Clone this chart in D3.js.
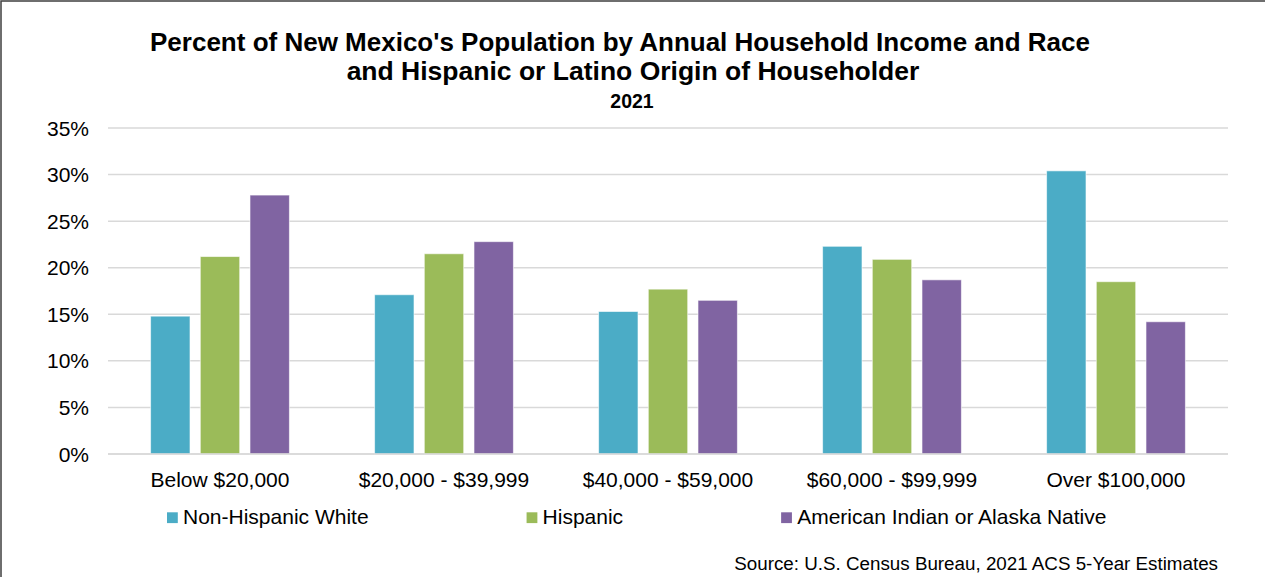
<!DOCTYPE html>
<html>
<head>
<meta charset="utf-8">
<script src="https://cdn.jsdelivr.net/npm/d3@7"></script>
<style>
  html, body { margin: 0; padding: 0; background: #fff; }
  svg { display: block; font-family: Arial, "Liberation Sans", sans-serif; }
</style>
</head>
<body>
<svg id="chart" width="1265" height="577"></svg>
<script>
const categories = ["Below $20,000", "$20,000 - $39,999", "$40,000 - $59,000", "$60,000 - $99,999", "Over $100,000"];
const seriesNames = ["Non-Hispanic White", "Hispanic", "American Indian or Alaska Native"];
const nonHispanicWhite = [14.8, 17.1, 15.3, 22.3, 30.4];
const hispanic = [21.2, 21.5, 17.7, 20.9, 18.5];
const americanIndian = [27.8, 22.8, 16.5, 18.7, 14.2];
const yTicks = [0, 5, 10, 15, 20, 25, 30, 35];
const titleLines = ["Percent of New Mexico's Population by Annual Household Income and Race", "and Hispanic or Latino Origin of Householder"];
const subtitle = "2021";
const sourceText = "Source: U.S. Census Bureau, 2021 ACS 5-Year Estimates";

const colors = ["#4BACC6", "#9BBB59", "#8064A2"];
const seriesValues = [nonHispanicWhite, hispanic, americanIndian];

const svg = d3.select("#chart");
const W = 1265, H = 577;
const plot = { left: 108, right: 1228, top: 128, bottom: 454 };

// border
svg.append("rect").attr("x", 1).attr("y", 1).attr("width", W + 10).attr("height", H + 10)
  .attr("fill", "none").attr("stroke", "#3f3f3f").attr("stroke-width", 1.5);

// title
const title = svg.append("g").attr("text-anchor", "middle").attr("font-weight", "bold").attr("fill", "#000");
title.append("text").attr("x", 620).attr("y", 51).attr("font-size", 26).text(titleLines[0]);
title.append("text").attr("x", 633).attr("y", 80).attr("font-size", 26.5).text(titleLines[1]);
title.append("text").attr("x", 632).attr("y", 108).attr("font-size", 19.5).text(subtitle);

const y = d3.scaleLinear().domain([0, 35]).range([plot.bottom, plot.top]);
const x0 = d3.scaleBand().domain(categories).range([plot.left, plot.right]).paddingInner(0).paddingOuter(0);
const step = 49.7;
const x1 = d3.scaleBand().domain(seriesNames).range([0, 3 * step]).paddingInner(0.207).paddingOuter(0.1035);

// gridlines
svg.append("g").selectAll("line").data(yTicks).join("line")
  .attr("x1", plot.left).attr("x2", plot.right)
  .attr("y1", d => y(d)).attr("y2", d => y(d))
  .attr("stroke", "#D9D9D9").attr("stroke-width", 1.5);

// y tick labels
svg.append("g").selectAll("text").data(yTicks).join("text")
  .attr("x", 89).attr("y", d => y(d)).attr("dy", "0.36em")
  .attr("text-anchor", "end").attr("font-size", 21).attr("fill", "#000")
  .text(d => d + "%");

// bars
const groups = svg.append("g").selectAll("g").data(categories).join("g")
  .attr("transform", c => `translate(${x0(c) + x0.bandwidth() / 2 - 1.5 * step},0)`);
groups.selectAll("rect").data((c, i) => seriesNames.map((s, j) => ({ s, j, v: seriesValues[j][i] })))
  .join("rect")
  .attr("x", d => x1(d.s)).attr("width", x1.bandwidth())
  .attr("y", d => y(d.v)).attr("height", d => y(0) - y(d.v))
  .attr("fill", d => colors[d.j])
  .attr("stroke", "#ffffff").attr("stroke-opacity", 0.6).attr("stroke-width", 1);

// axis line
svg.append("line").attr("x1", plot.left).attr("x2", plot.right)
  .attr("y1", y(0)).attr("y2", y(0)).attr("stroke", "#D9D9D9").attr("stroke-width", 1.5);

// x labels
svg.append("g").selectAll("text").data(categories).join("text")
  .attr("x", c => x0(c) + x0.bandwidth() / 2).attr("y", 487)
  .attr("text-anchor", "middle").attr("font-size", 21).attr("fill", "#000")
  .text(c => c);

// legend
const legend = svg.append("g");
let lx = 167;
seriesNames.forEach((s, j) => {
  const g = legend.append("g");
  g.append("rect").attr("x", lx).attr("y", 512.3).attr("width", 10.8).attr("height", 10.8).attr("fill", colors[j]);
  const t = g.append("text").attr("x", lx + 16).attr("y", 523.5).attr("font-size", 21).attr("fill", "#000").text(s);
  const w = t.node().getComputedTextLength();
  lx = lx + 16 + w + 158;
});

// source
svg.append("text").attr("x", 1218).attr("y", 570).attr("text-anchor", "end")
  .attr("font-size", 18.8).attr("fill", "#000").text(sourceText);
</script>
</body>
</html>
